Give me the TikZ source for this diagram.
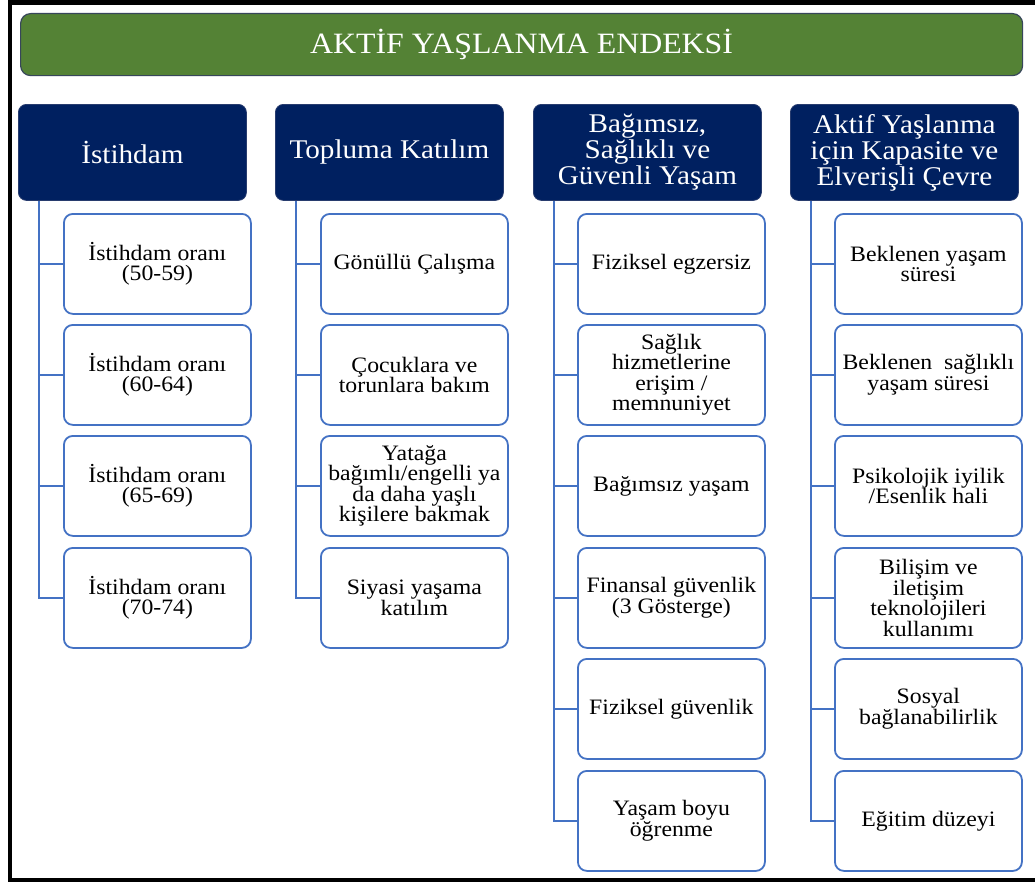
\documentclass[tikz,border=0pt]{standalone}
\usepackage{fontspec}
\setmainfont[FakeStretch=1.08]{Liberation Serif}
\definecolor{titlegreen}{RGB}{84,130,53}
\definecolor{titleedge}{RGB}{55,70,90}
\definecolor{navy}{RGB}{0,32,96}
\definecolor{navyedge}{RGB}{40,60,110}
\definecolor{linkblue}{RGB}{68,114,196}
\tikzset{
  titlebox/.style={draw=titleedge, line width=1.2pt, fill=titlegreen, rounded corners=10pt,
    minimum width=1002pt, minimum height=62pt, anchor=north west, inner sep=0pt,
    text=white, font=\fontsize{29.5pt}{30pt}\selectfont},
  headbox/.style={draw=navyedge, line width=0.8pt, fill=navy, rounded corners=8pt,
    minimum width=228pt, minimum height=96pt, anchor=north west, inner sep=0pt,
    text=white, align=center, font=\fontsize{27pt}{26pt}\selectfont},
  childbox/.style={draw=linkblue, line width=1.8pt, fill=white, rounded corners=9pt,
    minimum width=187pt, minimum height=100pt, anchor=north west, inner sep=0pt,
    text=black, align=center, font=\fontsize{22pt}{20.5pt}\selectfont},
  conn/.style={draw=linkblue, line width=2pt}
}
\begin{document}
\begin{tikzpicture}[x=1pt,y=-1pt]
\useasboundingbox (0,0) rectangle (1035,883);
\fill[white] (0,0) rectangle (1035,883);
% outer frame (right side lies outside the picture)
\draw[black, line width=4.5pt] (1040,2.5) -- (10,2.5) -- (10,880) -- (1040,880);
% title
\node[titlebox] (title) at (20,13) {AKTİF YAŞLANMA ENDEKSİ};
% headers
\node[headbox] (h1) at (18,104) {İstihdam};
\node[headbox] (h2) at (275,104) {Topluma Katılım};
\node[headbox] (h3) at (533,104) {Bağımsız,\\Sağlıklı ve\\Güvenli Yaşam};
\node[headbox] (h4) at (790,104) {Aktif Yaşlanma\\için Kapasite ve\\Elverişli Çevre};
% trunk coordinates
\coordinate (t1) at ([xshift=21pt]h1.south west);
\coordinate (t2) at ([xshift=21pt]h2.south west);
\coordinate (t3) at ([xshift=21pt]h3.south west);
\coordinate (t4) at ([xshift=21pt]h4.south west);
% column 1
\node[childbox] (c11) at (63,213) {İstihdam oranı\\(50-59)};
\node[childbox] (c12) at (63,324) {İstihdam oranı\\(60-64)};
\node[childbox] (c13) at (63,435) {İstihdam oranı\\(65-69)};
\node[childbox] (c14) at (63,547) {İstihdam oranı\\(70-74)};
% column 2
\node[childbox] (c21) at (320,213) {Gönüllü Çalışma};
\node[childbox] (c22) at (320,324) {Çocuklara ve\\torunlara bakım};
\node[childbox] (c23) at (320,435) {Yatağa\\bağımlı/engelli ya\\da daha yaşlı\\kişilere bakmak};
\node[childbox] (c24) at (320,547) {Siyasi yaşama\\katılım};
% column 3
\node[childbox] (c31) at (577,213) {Fiziksel egzersiz};
\node[childbox] (c32) at (577,324) {Sağlık\\hizmetlerine\\erişim /\\memnuniyet};
\node[childbox] (c33) at (577,435) {Bağımsız yaşam};
\node[childbox] (c34) at (577,547) {Finansal güvenlik\\(3 Gösterge)};
\node[childbox] (c35) at (577,658) {Fiziksel güvenlik};
\node[childbox] (c36) at (577,770) {Yaşam boyu\\öğrenme};
% column 4
\node[childbox] (c41) at (834,213) {Beklenen yaşam\\süresi};
\node[childbox] (c42) at (834,324) {Beklenen\ \ sağlıklı\\yaşam süresi};
\node[childbox] (c43) at (834,435) {Psikolojik iyilik\\/Esenlik hali};
\node[childbox] (c44) at (834,547) {Bilişim ve\\iletişim\\teknolojileri\\kullanımı};
\node[childbox] (c45) at (834,658) {Sosyal\\bağlanabilirlik};
\node[childbox] (c46) at (834,770) {Eğitim düzeyi};
% connectors
\draw[conn] (t1) |- (c14.west);
\foreach \i in {1,2,3} \draw[conn] (c1\i.west) -- (c1\i.west -| t1);
\draw[conn] (t2) |- (c24.west);
\foreach \i in {1,2,3} \draw[conn] (c2\i.west) -- (c2\i.west -| t2);
\draw[conn] (t3) |- (c36.west);
\foreach \i in {1,...,5} \draw[conn] (c3\i.west) -- (c3\i.west -| t3);
\draw[conn] (t4) |- (c46.west);
\foreach \i in {1,...,5} \draw[conn] (c4\i.west) -- (c4\i.west -| t4);
\end{tikzpicture}
\end{document}
